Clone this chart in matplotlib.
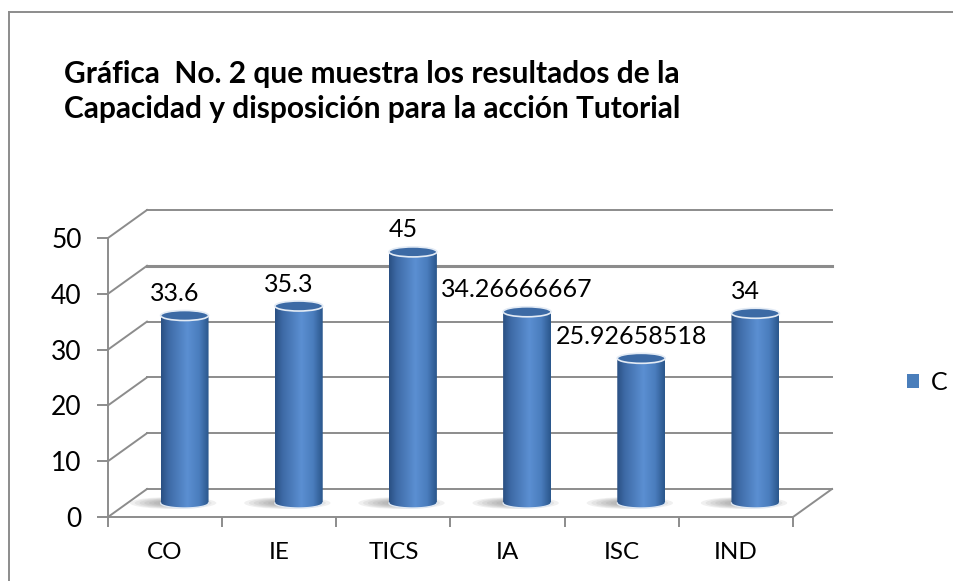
import numpy as np
import matplotlib
matplotlib.use('Agg')
import matplotlib.pyplot as plt
from matplotlib.patches import Ellipse, PathPatch, Patch
from matplotlib.path import Path
from matplotlib.colors import LinearSegmentedColormap
from matplotlib.lines import Line2D

plt.rcParams['font.family'] = ['Lato', 'DejaVu Sans']

categories = ['CO', 'IE', 'TICS', 'IA', 'ISC', 'IND']
values = [33.6, 35.3, 45, 34.26666667, 25.92658518, 34]
series_name = 'C'
yticks = [0, 10, 20, 30, 40, 50]
title_lines = ['Gráfica  No. 2 que muestra los resultados de la',
               'Capacidad y disposición para la acción Tutorial']

W, H = 954, 581
fig = plt.figure(figsize=(W / 100, H / 100), dpi=100)
ax_l, ax_b, ax_w, ax_h = 108, 64, 685, 279
ax = fig.add_axes([ax_l / W, ax_b / H, ax_w / W, ax_h / H])
n = len(categories)
ax.set_xlim(0, n)
ax.set_ylim(0, 50)

# depth of the fake 3d box, pixels -> data units
px_x = ax_w / n
px_y = ax_h / 50
DX = 39 / px_x
DY = 28 / px_y

grid_c = '#8c8c8c'
for v in yticks:
    lw = 2.2 if v == 40 else 1.4
    ax.plot([DX, n + DX], [v + DY, v + DY], color=grid_c, lw=lw, clip_on=False, zorder=1)
    ax.plot([0, DX], [v, v + DY], color=grid_c, lw=1.4, clip_on=False, zorder=1)
ax.plot([n, n + DX], [0, DY], color=grid_c, lw=1.4, clip_on=False, zorder=1)

for s in ['top', 'right']:
    ax.spines[s].set_visible(False)
for s in ['left', 'bottom']:
    ax.spines[s].set_color(grid_c)
    ax.spines[s].set_linewidth(1.4)
ax.set_facecolor('none')
ax.set_yticks(yticks)
ax.set_xticks(np.arange(n + 1))
ax.set_xticklabels([])
ax.set_xticks(np.arange(n) + 0.5, minor=True)
ax.set_xticklabels(categories, minor=True)
ax.tick_params(axis='x', which='major', length=7, width=1.4, color=grid_c, direction='out')
ax.tick_params(axis='x', which='minor', length=0, pad=18, labelsize=17.5)
ax.tick_params(axis='y', length=8, width=1.4, color=grid_c, labelsize=19, pad=11)

cmap = LinearSegmentedColormap.from_list('cyl', [
    (0.0, '#2a5083'), (0.15, '#3d69a5'), (0.55, '#5b8fd2'),
    (0.8, '#4a7dbd'), (1.0, '#2b578c')])

hw = 0.21
ry = 5 / px_y
t = np.linspace(np.pi, 2 * np.pi, 40)
for i, v in enumerate(values):
    xc = i + 0.5 + DX / 2
    base = DY / 2
    top = v + DY / 2
    # shadow on the floor
    for k in range(7):
        f = 1 - k * 0.11
        ax.add_patch(Ellipse((xc - 0.1, base), 2 * hw * 1.8 * f, 2 * ry * 1.2 * f,
                             facecolor='#7a7a7a', edgecolor='none', alpha=0.11,
                             clip_on=False, zorder=2))
    # body
    verts = [(xc - hw, top)]
    verts += list(zip(xc + hw * np.cos(t), base + ry * np.sin(t)))
    verts += [(xc + hw, top), (xc - hw, top)]
    body = PathPatch(Path(verts), facecolor='none', edgecolor='none', transform=ax.transData)
    ax.add_patch(body)
    im = ax.imshow(np.linspace(0, 1, 100)[None, :], cmap=cmap, aspect='auto',
                   extent=[xc - hw, xc + hw, base - ry, top], zorder=3,
                   interpolation='bilinear')
    im.set_clip_path(body)
    ax.plot(xc + hw * np.cos(t), base + ry * np.sin(t), color='#dfe8f3', lw=1.0,
            clip_on=False, zorder=4)
    ax.add_patch(Ellipse((xc, top), 2 * hw, 2 * ry, facecolor='#3c6aa5',
                         edgecolor='#e3ebf5', lw=1.2, clip_on=False, zorder=5))
    ax.annotate('{:.10g}'.format(v), xy=(xc, top), xytext=(-10, 22),
                textcoords='offset pixels', ha='center', va='center',
                fontsize=18, color='black', zorder=6, annotation_clip=False)

ax.set_xlim(0, n)
ax.set_ylim(0, 50)

fig.legend(handles=[Patch(facecolor='#4a7ebb')], labels=[series_name],
           loc='center left', bbox_to_anchor=(907 / W, 1 - 382 / H), frameon=False,
           fontsize=18, handlelength=0.5, handleheight=0.5, handletextpad=0.45,
           borderpad=0, borderaxespad=0)

for k, line in enumerate(title_lines):
    fig.text(64 / W, 1 - (83 + 35 * k) / H, line, ha='left', va='baseline',
             fontsize=21.5, fontweight='bold')

fig.add_artist(Line2D([9.5 / W, 9.5 / W], [0, 1 - 12 / H], color='#8c8c8c', lw=1.4))
fig.add_artist(Line2D([9.5 / W, 1], [1 - 12 / H, 1 - 12 / H], color='#8c8c8c', lw=1.4))

fig.savefig('out.png', dpi=100)
